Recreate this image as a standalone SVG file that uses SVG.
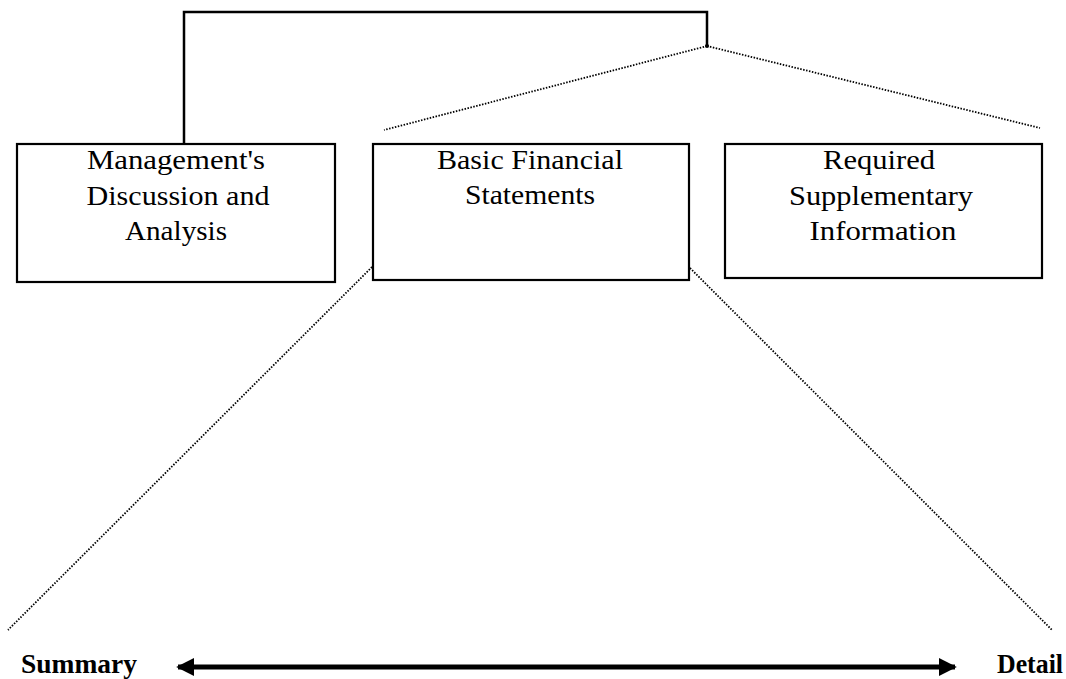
<svg xmlns="http://www.w3.org/2000/svg" width="1066" height="679" viewBox="0 0 1066 679">
<style>
.box{fill:#fff;stroke:#000;stroke-width:2.2}
.t{font-family:"Liberation Serif","Times New Roman",serif;font-size:27px;fill:#000;text-anchor:middle}
.b{font-family:"Liberation Serif","Times New Roman",serif;font-size:27px;font-weight:bold;fill:#000}
.solid{fill:none;stroke:#000;stroke-width:2.5}
.dot{fill:none;stroke:#000;stroke-width:1.8;stroke-dasharray:1.5 1.5}
</style>
<defs>
<marker id="ah" viewBox="0 0 10 10" refX="9" refY="5" markerWidth="3.6" markerHeight="3.6" orient="auto-start-reverse" markerUnits="strokeWidth">
<path d="M0,0 L10,5 L0,10 Z" fill="#000"/>
</marker>
</defs>
<rect width="1066" height="679" fill="#fff"/>
<g id="connectors">
<polyline class="solid" points="184,145 184,12 707,12 707,46"/>
<circle cx="707" cy="46" r="2" fill="#000"/>
<line class="dot" x1="707" y1="46" x2="384" y2="130"/>
<line class="dot" x1="707" y1="46" x2="1040" y2="128"/>
<line class="dot" x1="372" y1="267" x2="8" y2="630"/>
<line class="dot" x1="690" y1="268" x2="1052" y2="630"/>
<line x1="178" y1="667" x2="955" y2="667" stroke="#000" stroke-width="5" marker-start="url(#ah)" marker-end="url(#ah)"/>
</g>
<g id="mdna">
<rect class="box" x="17" y="144" width="318" height="138"/>
<text class="t" x="176" y="169" textLength="178" lengthAdjust="spacingAndGlyphs">Management's</text>
<text class="t" x="178" y="205" textLength="183" lengthAdjust="spacingAndGlyphs">Discussion and</text>
<text class="t" x="176" y="240" textLength="102" lengthAdjust="spacingAndGlyphs">Analysis</text>
</g>
<g id="bfs">
<rect class="box" x="373" y="144" width="316" height="136"/>
<text class="t" x="530" y="169" textLength="186" lengthAdjust="spacingAndGlyphs">Basic Financial</text>
<text class="t" x="530" y="204" textLength="130" lengthAdjust="spacingAndGlyphs">Statements</text>
</g>
<g id="rsi">
<rect class="box" x="725" y="144" width="317" height="134"/>
<text class="t" x="879" y="169" textLength="112" lengthAdjust="spacingAndGlyphs">Required</text>
<text class="t" x="881" y="205" textLength="184" lengthAdjust="spacingAndGlyphs">Supplementary</text>
<text class="t" x="883" y="240" textLength="147" lengthAdjust="spacingAndGlyphs">Information</text>
</g>
<g id="summary">
<text class="b" x="21" y="673" textLength="116" lengthAdjust="spacingAndGlyphs">Summary</text>
</g>
<g id="detail">
<text class="b" x="997" y="673" textLength="66" lengthAdjust="spacingAndGlyphs">Detail</text>
</g>
</svg>
